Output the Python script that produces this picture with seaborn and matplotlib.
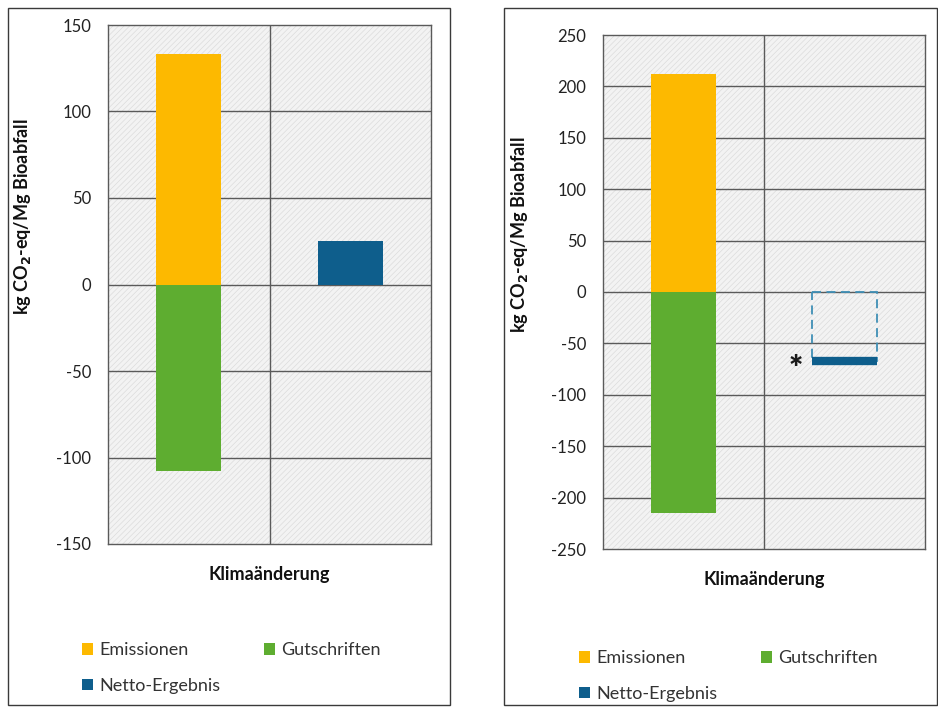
import matplotlib
matplotlib.use("Agg")
import matplotlib.pyplot as plt
from matplotlib.patches import Patch, Rectangle
import pandas as pd
import seaborn as sns

# --- data -------------------------------------------------------------
series = ["Emissionen", "Gutschriften", "Netto-Ergebnis"]
slots = ["Beiträge", "Netto"]
left_values = [133, -108, 25]      # kg CO2-eq/Mg Bioabfall
right_values = [212, -215, -67]
left_ticks = [-150, -100, -50, 0, 50, 100, 150]
right_ticks = [-250, -200, -150, -100, -50, 0, 50, 100, 150, 200, 250]
xlabel_text = "Klimaänderung"
ylabel_text = r"kg CO$_\mathbf{2}$-eq/Mg Bioabfall"

colors = {"Emissionen": "#FDB900", "Gutschriften": "#5EAD30", "Netto-Ergebnis": "#0E5E8C"}

sns.set_theme(style="white")
plt.rcParams["font.family"] = ["Lato", "DejaVu Sans"]
plt.rcParams["hatch.linewidth"] = 0.5


def frame(values):
    return pd.DataFrame({
        "slot": [slots[0], slots[0], slots[1]],
        "series": series,
        "value": values,
    })


fig = plt.figure(figsize=(9.38, 7.08), dpi=100)

# panel borders
for x0, w in [(8 / 938, 442 / 938), (504 / 938, 433 / 938)]:
    fig.patches.append(Rectangle((x0, 0.004), w, 0.985, transform=fig.transFigure,
                                 fill=False, edgecolor="#3a3a3a", lw=1.0))


def panel(rect, values, ticks, dashed_net, ylab_pos):
    ax = fig.add_axes(rect)
    ax.add_patch(Rectangle((0, 0), 1, 1, transform=ax.transAxes, facecolor="#f3f3f3",
                           edgecolor="#dcdcdc", hatch="//////", lw=0, zorder=0))
    df = frame(values)
    sns.barplot(data=df, x="slot", y="value", hue="series", order=slots,
                hue_order=series, palette=colors, dodge=False, width=0.4,
                legend=False, ax=ax, zorder=3, saturation=1,
                linewidth=0, edgecolor="none")
    ax.set_ylim(ticks[0], ticks[-1])
    ax.set_xlim(-0.5, 1.5)
    ax.set_yticks(ticks)
    ax.set_yticklabels([str(t) for t in ticks], fontsize=12, color="#222222")
    for t in ticks[1:-1]:
        ax.axhline(t, color="#5a5a5a", lw=1.0, zorder=1)
    ax.axvline(0.5, color="#5a5a5a", lw=1.0, zorder=1)
    ax.set_xticks([])
    ax.set_xlabel(xlabel_text, fontsize=13, fontweight="bold", labelpad=16, color="#111111")
    ax.set_ylabel(ylabel_text, fontsize=13, fontweight="bold", color="#111111")
    ax.yaxis.set_label_coords(*ylab_pos)
    ax.tick_params(axis="y", length=0, pad=12)
    for s in ax.spines.values():
        s.set_color("#5a5a5a")
        s.set_linewidth(1.0)

    if dashed_net:
        net = [p for p in ax.patches if p.get_height() == values[2] and p.get_x() > 0.3][0]
        x0, w = net.get_x(), net.get_width()
        net.set_facecolor("none")
        net.set_edgecolor("#3f8fb5")
        net.set_linestyle((0, (5, 3)))
        net.set_linewidth(1.3)
        ax.hlines(values[2], x0, x0 + w, color=colors["Netto-Ergebnis"], lw=6, zorder=4)
        ax.text(x0 - 0.06, values[2] - 9, "*", fontsize=24, fontweight="heavy",
                ha="right", va="center", color="#1a1a1a")
    return ax


ax1 = panel([108 / 938, 1 - 544 / 708, 323 / 938, 519 / 708], left_values, left_ticks,
            False, (-0.232, 0.630))
ax2 = panel([603 / 938, 1 - 549 / 708, 322 / 938, 514 / 708], right_values, right_ticks,
            True, (-0.227, 0.611))

# legend laid out row by row: Emissionen, Gutschriften / Netto-Ergebnis
order = ["Emissionen", "Netto-Ergebnis", "Gutschriften"]
handles = [Patch(facecolor=colors[s], edgecolor="none") for s in order]
for ax, anchor in [(ax1, (66 / 938, 1 - 626 / 708)), (ax2, (563 / 938, 1 - 634 / 708))]:
    leg = ax.legend(handles, order, loc="upper left", bbox_to_anchor=anchor,
                    bbox_transform=fig.transFigure, ncol=2, frameon=False,
                    fontsize=13, handlelength=0.6, handleheight=0.6, handletextpad=0.35,
                    columnspacing=2.4, labelspacing=1.1)
    for t in leg.get_texts():
        t.set_color("#333333")

fig.savefig("out.png", dpi=100)
